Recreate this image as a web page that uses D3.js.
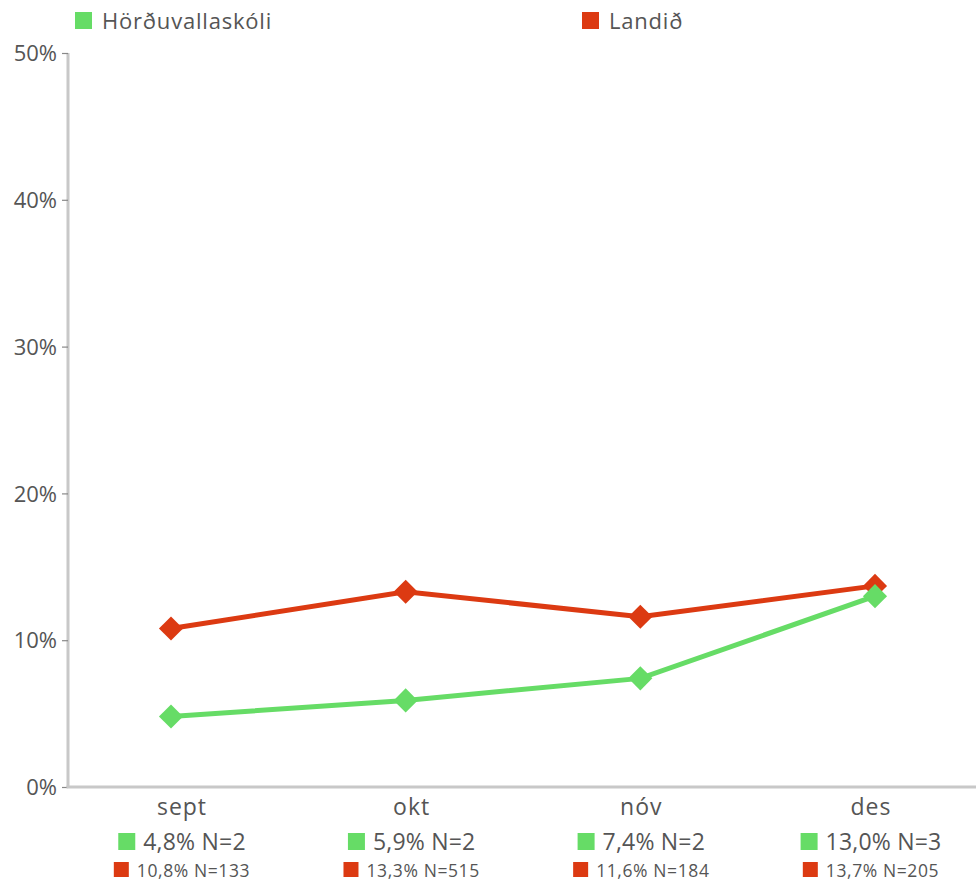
<!DOCTYPE html>
<html>
<head>
<meta charset="utf-8">
<script src="https://cdn.jsdelivr.net/npm/d3@7"></script>
<style>
  body { margin: 0; background: #fff; }
  text { font-family: "Open Sans", Lato, sans-serif; fill: #555; }
</style>
</head>
<body>
<svg id="chart"></svg>
<script>
WIDTH = 976;
HEIGHT = 881;
MARGIN = { top: 53, right: 0, bottom: 94, left: 68 };

var months = ["sept", "okt", "nóv", "des"];
var schoolName = "Hörðuvallaskóli";
var countryName = "Landið";
var schoolValues = [4.8, 5.9, 7.4, 13.0];
var schoolN = [2, 2, 2, 3];
var countryValues = [10.8, 13.3, 11.6, 13.7];
var countryN = [133, 515, 184, 205];
var yTicks = [0, 10, 20, 30, 40, 50];

var GREEN = "#66dc66";
var RED = "#dc3a12";

function fmt(v) { return v.toFixed(1).replace(".", ",") + "%"; }

function buildChart() {
    var svg = d3.select("#chart").attr("width", WIDTH).attr("height", HEIGHT);
    var plotH = HEIGHT - MARGIN.top - MARGIN.bottom;

    var x = d3.scalePoint().domain(months).range([171, 875]);
    // labels under the axis sit on a slightly different grid than the points
    var xLabel = d3.scalePoint().domain(months).range([182, 871]);
    var y = d3.scaleLinear().domain([0, 50]).range([MARGIN.top + plotH, MARGIN.top]);

    // y axis
    var yAxis = svg.append("g")
        .attr("transform", "translate(" + MARGIN.left + ",0)")
        .call(d3.axisLeft(y).tickValues(yTicks).tickSize(6).tickPadding(5)
              .tickFormat(function(d) { return d + "%"; }));
    yAxis.select(".domain").attr("stroke", "#c8c8c8").attr("stroke-width", 3)
        .attr("d", "M0," + y(50) + "V" + y(0));
    yAxis.selectAll(".tick line").attr("stroke", "#888").attr("stroke-width", 1.2);
    yAxis.selectAll(".tick text").style("font-size", "22px").attr("fill", "#444")
        .attr("dy", "0.35em");

    // x axis line
    svg.append("line")
        .attr("x1", MARGIN.left - 1.5).attr("x2", WIDTH)
        .attr("y1", y(0)).attr("y2", y(0))
        .attr("stroke", "#c8c8c8").attr("stroke-width", 3);

    var series = [
        { values: schoolValues, color: GREEN },
        { values: countryValues, color: RED }
    ];
    var line = d3.line()
        .x(function(d, i) { return x(months[i]); })
        .y(function(d) { return y(d); });

    [series[1], series[0]].forEach(function(s) {
        svg.append("path")
            .datum(s.values)
            .attr("fill", "none")
            .attr("stroke", s.color)
            .attr("stroke-width", 5)
            .attr("d", line);
        svg.selectAll(null)
            .data(s.values)
            .enter().append("path")
            .attr("d", d3.symbol().type(d3.symbolSquare).size(290))
            .attr("transform", function(d, i) {
                return "translate(" + x(months[i]) + "," + y(d) + ") rotate(45)";
            })
            .attr("fill", s.color);
    });

    // category labels
    svg.selectAll(".month")
        .data(months)
        .enter().append("text")
        .attr("class", "month")
        .attr("x", function(d) { return xLabel(d); })
        .attr("y", y(0) + 28)
        .attr("text-anchor", "middle")
        .style("font-size", "23px")
        .style("letter-spacing", "1px")
        .attr("fill", "#555")
        .text(function(d) { return d; });

    function valueRow(vals, ns, color, yBase, fontSize, box, gap, spacing) {
        months.forEach(function(m, i) {
            var g = svg.append("g");
            var t = g.append("text")
                .attr("y", yBase)
                .style("font-size", fontSize + "px")
                .style("letter-spacing", spacing + "px")
                .attr("fill", "#555")
                .text(fmt(vals[i]) + " N=" + ns[i]);
            var tw = t.node().getComputedTextLength();
            var total = box + gap + tw;
            var left = xLabel(m) - total / 2;
            g.insert("rect", "text")
                .attr("x", left)
                .attr("y", yBase - box)
                .attr("width", box).attr("height", box)
                .attr("fill", color);
            t.attr("x", left + box + gap);
        });
    }
    valueRow(schoolValues, schoolN, GREEN, 850, 23, 17, 8, 0.2);
    valueRow(countryValues, countryN, RED, 877, 17.5, 15, 8, 0.6);

    var legend = [
        { name: schoolName, color: GREEN, x: 75 },
        { name: countryName, color: RED, x: 582 }
    ];
    legend.forEach(function(l) {
        svg.append("rect").attr("x", l.x).attr("y", 12)
            .attr("width", 17).attr("height", 17).attr("fill", l.color);
        svg.append("text").attr("x", l.x + 27).attr("y", 29)
            .style("font-size", "22px").style("letter-spacing", "0.8px")
            .attr("fill", "#444")
            .text(l.name);
    });
}

buildChart();
</script>
</body>
</html>
